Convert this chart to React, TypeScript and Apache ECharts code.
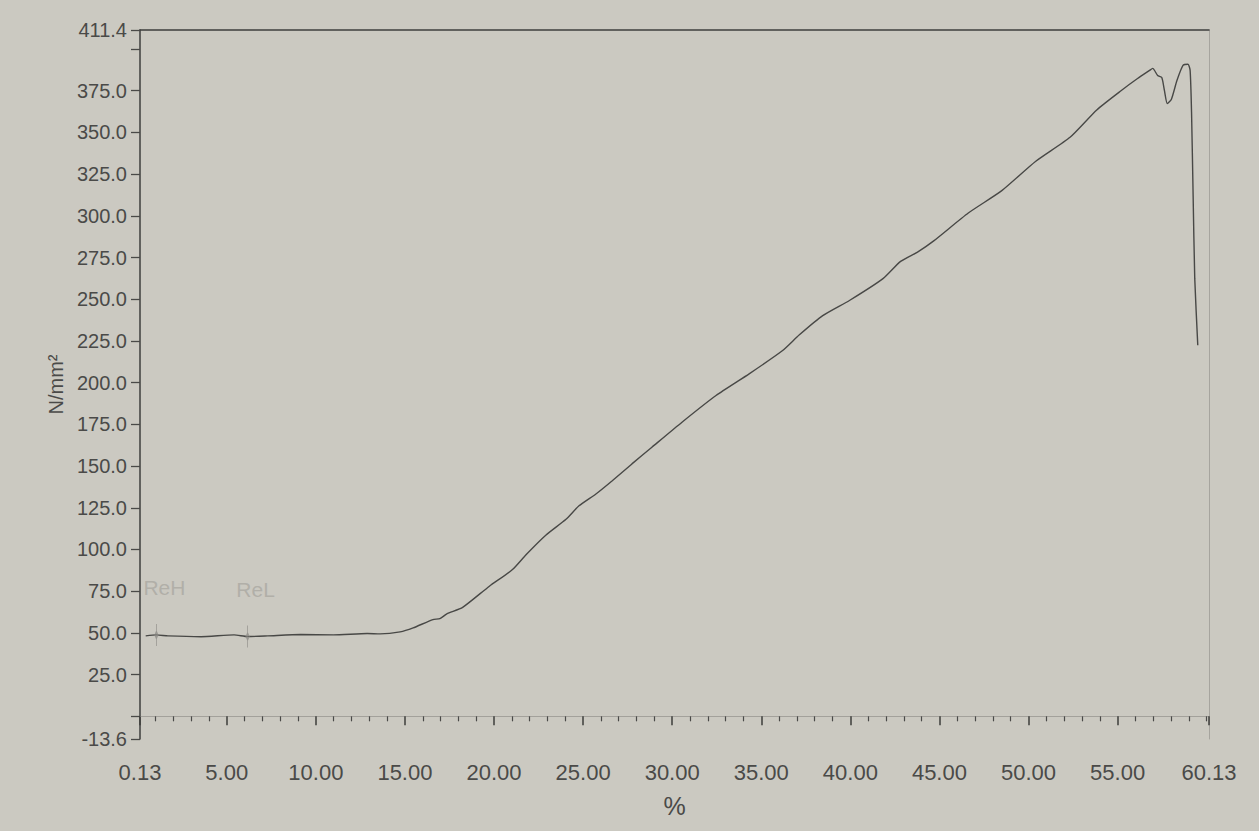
import React, { useEffect, useRef } from "react";
import * as echarts from "echarts";

// Strain (%) and stress (N/mm²)
const strain = [
  0.45, 1.05, 1.7, 3.56, 5.41, 6.17, 7.3, 9.15, 10.99, 12.88, 13.61, 14.73, 15.46,
  16.57, 16.96, 17.35, 18.24, 19.74, 21.02, 21.81, 22.92, 24.04, 24.77, 25.72, 26.62,
  27.74, 28.86, 30.55, 32.46, 34.32, 36.18, 37.14, 38.45, 39.97, 41.85, 42.82, 43.77,
  44.68, 46.62, 48.5, 50.39, 52.33, 53.83, 55.19, 56.12, 56.8, 56.97, 57.25, 57.48,
  57.63, 57.79, 58.02, 58.33, 58.67, 58.95, 59.07, 59.15, 59.24, 59.33, 59.5,
];
const stress = [
  48.2, 48.8, 48.2, 47.7, 48.8, 47.8, 48.2, 49.0, 48.8, 49.6, 49.4, 50.6, 53.0,
  58.0, 58.5, 61.4, 65.3, 78.0, 87.8, 97.0, 108.7, 118.1, 126.2, 133.3, 141.1,
  151.3, 161.3, 176.3, 192.3, 205.3, 219.1, 228.7, 240.2, 249.4, 262.5, 272.7, 278.3,
  285.0, 301.7, 315.1, 332.6, 347.1, 363.5, 375.0, 382.3, 387.2, 388.4, 384.1, 382.9,
  375.0, 367.3, 369.9, 381.1, 390.2, 390.9, 387.2, 362.2, 311.6, 262.5, 222.4,
];

// Yield markers
const markNames = ["ReH", "ReL"];
const markStrain = [1.05, 6.17];
const markStress = [48.8, 47.8];

// Axis ranges and tick labels
const xMin = 0.13;
const xMax = 60.13;
const xLabelValues = [0.13, 5, 10, 15, 20, 25, 30, 35, 40, 45, 50, 55, 60.13];
const xMinorTicks = [
  1, 2, 3, 4, 6, 7, 8, 9, 11, 12, 13, 14, 16, 17, 18, 19, 21, 22, 23, 24, 26, 27, 28, 29,
  31, 32, 33, 34, 36, 37, 38, 39, 41, 42, 43, 44, 46, 47, 48, 49, 51, 52, 53, 54, 56, 57,
  58, 59, 60,
];
const yMin = -13.6;
const yMax = 411.4;
const yLabelValues = [
  -13.6, 25, 50, 75, 100, 125, 150, 175, 200, 225, 250, 275, 300, 325, 350, 375, 411.4,
];
const yTickValues = [
  -13.6, 0, 25, 50, 75, 100, 125, 150, 175, 200, 225, 250, 275, 300, 325, 350, 375, 400,
  411.4,
];

const FONT = "'Liberation Sans', Arial, sans-serif";
const TEXT = "#4a4a48";

export default function App() {
  const ref = useRef<HTMLDivElement>(null);

  useEffect(() => {
    if (!ref.current) return;
    const chart = echarts.init(ref.current, undefined, { renderer: "svg" });
    const curve = strain.map((x, i) => [x, stress[i]]);
    const marks = markStrain.map((x, i) => ({ value: [x, markStress[i]], name: markNames[i] }));

    chart.setOption({
      animation: false,
      backgroundColor: "#cbc9c1",
      textStyle: { fontFamily: FONT },
      grid: { left: 140, right: 50, top: 30, bottom: 92, containLabel: false },
      xAxis: [
        {
          type: "value",
          min: xMin,
          max: xMax,
          position: "bottom",
          name: "%",
          nameLocation: "middle",
          nameGap: 54,
          nameTextStyle: { fontSize: 25, color: TEXT, fontFamily: FONT },
          axisLine: { show: true, lineStyle: { color: "#a3a19b", width: 1 } },
          axisTick: {
            show: true,
            customValues: xLabelValues,
            length: 9,
            lineStyle: { color: "#3c3c3a", width: 1.5 },
          },
          axisLabel: {
            show: true,
            customValues: xLabelValues,
            formatter: (v: number) => v.toFixed(2),
            fontSize: 22,
            color: TEXT,
            fontFamily: FONT,
            margin: 22,
          },
          splitLine: { show: false },
        },
        {
          type: "value",
          min: xMin,
          max: xMax,
          position: "bottom",
          axisLine: { show: false },
          axisTick: {
            show: true,
            customValues: xMinorTicks,
            length: 5,
            lineStyle: { color: "#4a4a48", width: 1.2 },
          },
          axisLabel: { show: false },
          splitLine: { show: false },
        },
        {
          type: "value",
          min: xMin,
          max: xMax,
          position: "top",
          axisLine: { show: true, lineStyle: { color: "#3e3e3c", width: 1.5 } },
          axisTick: { show: false },
          axisLabel: { show: false },
          splitLine: { show: false },
        },
      ],
      yAxis: [
        {
          type: "value",
          min: yMin,
          max: yMax,
          position: "left",
          name: "N/mm²",
          nameLocation: "middle",
          nameGap: 70,
          nameTextStyle: { fontSize: 20, color: TEXT, fontFamily: FONT },
          axisLine: { show: true, lineStyle: { color: "#3e3e3c", width: 1.5 } },
          axisTick: {
            show: true,
            customValues: yTickValues,
            length: 9,
            lineStyle: { color: "#4a4a48", width: 1.3 },
          },
          axisLabel: {
            show: true,
            customValues: yLabelValues,
            formatter: (v: number) => v.toFixed(1),
            fontSize: 20,
            color: TEXT,
            fontFamily: FONT,
            margin: 13,
          },
          splitLine: { show: false },
        },
        {
          type: "value",
          min: yMin,
          max: yMax,
          position: "right",
          axisLine: { show: true, lineStyle: { color: "#a6a49e", width: 1 } },
          axisTick: { show: false },
          axisLabel: { show: false },
          splitLine: { show: false },
        },
      ],
      series: [
        {
          type: "line",
          data: curve,
          showSymbol: false,
          smooth: 0.2,
          lineStyle: { color: "#484846", width: 1.4 },
          xAxisIndex: 0,
          yAxisIndex: 0,
          z: 3,
        },
        {
          type: "scatter",
          data: marks,
          xAxisIndex: 0,
          yAxisIndex: 0,
          symbol: "path://M5,0L5,24M5,8L9,12L5,16L1,12Z",
          symbolSize: [9, 22],
          symbolKeepAspect: true,
          itemStyle: { color: "transparent", borderColor: "#8c8b86", borderWidth: 1.2 },
          label: {
            show: true,
            formatter: (p: any) => p.name,
            position: "top",
            distance: 25,
            offset: [8, 0],
            fontSize: 21,
            color: "#aaa8a2",
            fontFamily: FONT,
          },
          z: 4,
        },
      ],
    });

    return () => chart.dispose();
  }, []);

  return (
    <div
      ref={ref}
      style={{ position: "fixed", left: 0, top: 0, width: 1259, height: 831 }}
    />
  );
}
